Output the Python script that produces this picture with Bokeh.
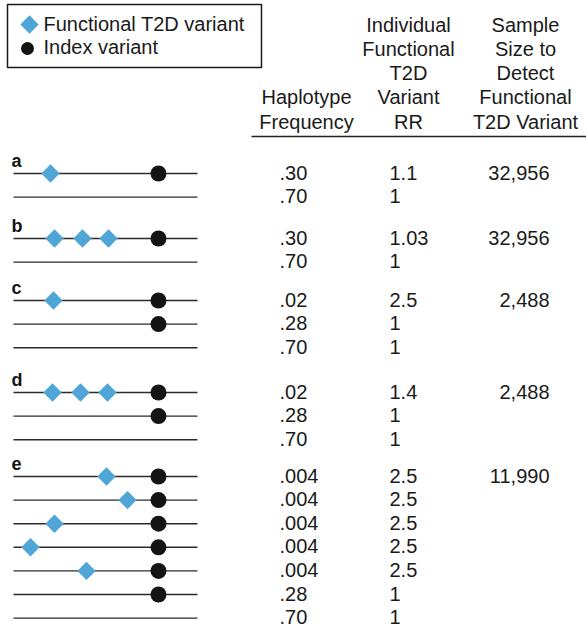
import math
from bokeh.plotting import figure
from bokeh.models import Range1d
from bokeh.core.properties import value
from bokeh.embed import file_html
from bokeh.resources import INLINE

# --- haplotype table data -------------------------------------------------
GROUPS = ["a", "b", "c", "d", "e"]
HAP_GROUP = [0, 0, 1, 1, 2, 2, 2, 3, 3, 3, 4, 4, 4, 4, 4, 4, 4]
FREQ = [".30", ".70", ".30", ".70", ".02", ".28", ".70", ".02", ".28", ".70",
        ".004", ".004", ".004", ".004", ".004", ".28", ".70"]
RR = ["1.1", "1", "1.03", "1", "2.5", "1", "1", "1.4", "1", "1",
      "2.5", "2.5", "2.5", "2.5", "2.5", "1", "1"]
SAMPLE_SIZE = ["32,956", "32,956", "2,488", "2,488", "11,990"]
# locus positions of functional T2D variants on each haplotype
FUNC_POS = [[50], [], [54, 82, 108], [], [53], [], [], [52, 80, 107], [], [],
            [106], [127], [54], [30], [86], [], []]
# 1 = haplotype carries the index variant
INDEX_PRESENT = [1, 0, 1, 0, 1, 1, 0, 1, 1, 0, 1, 1, 1, 1, 1, 1, 0]
INDEX_POS = 158
LOCUS_START, LOCUS_END = 13, 197

HEAD_FREQ = ["Haplotype", "Frequency"]
HEAD_RR = ["Individual", "Functional", "T2D", "Variant", "RR"]
HEAD_N = ["Sample", "Size to", "Detect", "Functional", "T2D Variant"]
LEGEND_LABELS = ["Functional T2D variant", "Index variant"]

# --- layout ----------------------------------------------------------------
W, H = 586, 631
ROW0, ROW_STEP = 173, 23.6
GROUP_GAPS = [0, 17.8, 14.8, 21.2, 13.2]   # extra space above each group
TEXT_DY = -1          # baseline offset of a row's text from its line
FONT = value("Liberation Sans")
FS = "20px"
TXT = "#1a1a1a"
BLUE = "#4fa6d6"
DARK = "#141414"
DIAMOND = 13          # side of the rotated square

row_y = []
y = ROW0
for i, g in enumerate(HAP_GROUP):
    if i > 0:
        y += ROW_STEP + (GROUP_GAPS[g] if g != HAP_GROUP[i - 1] else 0)
    row_y.append(y)
first_row = [HAP_GROUP.index(g) for g in range(len(GROUPS))]

p = figure(width=W, height=H, x_range=Range1d(0, W), y_range=Range1d(H, 0),
           output_backend="svg", toolbar_location=None, min_border=0,
           x_axis_location=None, y_axis_location=None)
p.grid.visible = False
p.outline_line_color = None
p.background_fill_color = "white"

# haplotype lines
p.segment(x0=[LOCUS_START] * len(row_y), x1=[LOCUS_END] * len(row_y),
          y0=row_y, y1=row_y, line_color="#2b2b2b", line_width=1.4)

# functional variants (diamonds)
fx, fy = [], []
for i, poss in enumerate(FUNC_POS):
    for ps in poss:
        fx.append(ps)
        fy.append(row_y[i])
p.scatter(fx, fy, marker="square", angle=math.pi / 4, size=DIAMOND,
          fill_color=BLUE, line_color=None)

# index variants (circles)
ix = [INDEX_POS for i in range(len(row_y)) if INDEX_PRESENT[i]]
iy = [row_y[i] for i in range(len(row_y)) if INDEX_PRESENT[i]]
p.scatter(ix, iy, marker="circle", size=16, fill_color=DARK, line_color=None)

# group labels
p.text([11] * len(GROUPS), [row_y[i] - 13 for i in first_row], text=GROUPS,
       text_font=FONT, text_font_size="18px", text_font_style="bold",
       text_color=DARK, text_baseline="alphabetic", text_align="left")

# table columns
p.text([279] * len(FREQ), [y + TEXT_DY for y in row_y], text=FREQ, text_font=FONT,
       text_font_size=FS, text_color=TXT, text_baseline="alphabetic", text_align="left")
p.text([389] * len(RR), [y + TEXT_DY for y in row_y], text=RR, text_font=FONT,
       text_font_size=FS, text_color=TXT, text_baseline="alphabetic", text_align="left")
p.text([549] * len(SAMPLE_SIZE), [row_y[i] + TEXT_DY for i in first_row], text=SAMPLE_SIZE,
       text_font=FONT, text_font_size=FS, text_color=TXT,
       text_baseline="alphabetic", text_align="right")

# column headers
HEAD_BASE, HEAD_STEP = 24, 24.3
def header(lines, xc):
    n0 = 5 - len(lines)
    p.text([xc] * len(lines), [HEAD_BASE + (n0 + k) * HEAD_STEP for k in range(len(lines))],
           text=lines, text_font=FONT, text_font_size=FS, text_color=TXT,
           text_baseline="alphabetic", text_align="center")
header(HEAD_FREQ, 306)
header(HEAD_RR, 408)
header(HEAD_N, 525)
p.segment(x0=[251], x1=[W], y0=[136], y1=[136], line_color="#222222", line_width=1.5)

# legend box
p.quad(left=[7], right=[261], top=[4], bottom=[67], fill_color="white",
       line_color="#1a1a1a", line_width=1.5)
p.scatter([29], [24], marker="square", angle=math.pi / 4, size=DIAMOND,
          fill_color=BLUE, line_color=None)
p.scatter([27], [48], marker="circle", size=13, fill_color=DARK, line_color=None)
p.text([43, 43], [23, 46], text=LEGEND_LABELS, text_font=FONT, text_font_size=FS,
       text_color=TXT, text_baseline="alphabetic", text_align="left")

open("out.html", "w").write(file_html(p, INLINE))
